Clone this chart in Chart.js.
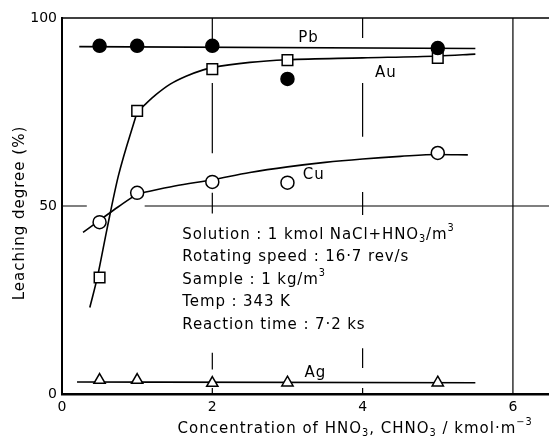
<!DOCTYPE html>
<html>
<head>
<meta charset="utf-8">
<script src="https://cdn.jsdelivr.net/npm/chart.js@4.4.0/dist/chart.umd.min.js"></script>
<style>
body { margin:0; background:#fff; }
canvas { display:block; }
</style>
</head>
<body>
<canvas id="chart" width="549" height="445"></canvas>
<script>
// measured points, x = HNO3 concentration (kmol/m3), y = leaching degree (%)
var concX = [0.5, 1, 2, 3, 5];
var pbVals = [92.6, 92.6, 92.6, 83.8, 92.0];
var auVals = [31.0, 75.3, 86.4, 88.8, 89.4];
var cuVals = [45.7, 53.5, 56.4, 56.2, 64.1];
var agVals = [3.7, 3.7, 2.9, 3.0, 3.0];

// hand drawn curves (Au and Cu bend sharply under the x=1 marker)
var pbCurveX = [0.23, 5.5];
var pbCurveY = [92.4, 91.9];
var auLowX = [0.37, 0.47, 0.6, 0.75, 1.0];
var auLowY = [23, 31, 44, 58, 75];
var auHighX = [1.0, 1.1, 1.25, 1.44, 1.65, 1.88, 2.0, 2.5, 3.0, 4.0, 5.0, 5.5];
var auHighY = [75, 76.9, 79.6, 82.4, 84.5, 86.2, 86.8, 88.2, 88.9, 89.4, 89.9, 90.4];
var cuLowX = [0.28, 0.5, 0.75, 1.0];
var cuLowY = [43, 46.2, 49.8, 53.2];
var cuHighX = [1.0, 1.5, 2.0, 2.5, 3.0, 3.5, 4.0, 4.5, 5.0, 5.4];
var cuHighY = [53.2, 55.3, 57, 58.9, 60.4, 61.6, 62.5, 63.2, 63.7, 63.6];
var agCurveX = [0.2, 5.5];
var agCurveY = [3.2, 3.0];

var xTicks = [0, 2, 4, 6];
var yTicks = [0, 50, 100];

var FONT = '"DejaVu Sans"';

function pts(xs, ys) {
	return xs.map(function(x, i) { return {x: x, y: ys[i]}; });
}

function marks(ys, style, r, fill) {
	return {
		data: pts(concX, ys), showLine: false,
		pointStyle: style, pointRadius: r,
		pointBackgroundColor: fill, pointBorderColor: '#000', pointBorderWidth: 1.5
	};
}

function curve(xs, ys) {
	return {
		data: pts(xs, ys), showLine: true, pointRadius: 0,
		borderColor: '#000', borderWidth: 1.6,
		cubicInterpolationMode: 'monotone'
	};
}

// text with sub/superscripts, parts = [[text, ''|'sub'|'sup'], ...]
function drawRich(ctx, parts, x, y, size, align, spacing) {
	ctx.letterSpacing = (spacing || 0) + 'px';
	var w = 0;
	parts.forEach(function(p) {
		ctx.font = (p[1] ? size * 0.65 : size) + 'px ' + FONT;
		w += ctx.measureText(p[0]).width;
	});
	var cx = align === 'center' ? x - w / 2 : x;
	parts.forEach(function(p) {
		var s = p[1] ? size * 0.65 : size;
		ctx.font = s + 'px ' + FONT;
		var dy = p[1] === 'sub' ? size * 0.3 : (p[1] === 'sup' ? -size * 0.42 : 0);
		ctx.fillText(p[0], cx, y + dy);
		cx += ctx.measureText(p[0]).width;
	});
	ctx.letterSpacing = '0px';
}

var decor = {
	id: 'decor',
	beforeDatasetsDraw: function(chart) {
		var ctx = chart.ctx, xs = chart.scales.x, ys = chart.scales.y, a = chart.chartArea;
		ctx.save();
		ctx.strokeStyle = '#000';
		ctx.lineWidth = 1.5;
		ctx.beginPath();
		ctx.moveTo(a.left, a.top);
		ctx.lineTo(a.right, a.top);
		ctx.stroke();
		ctx.lineWidth = 1.2;
		// broken guide lines of the original figure
		var vert = [
			{at: 2, spans: [[100, 92.6], [82.7, 64], [53.5, 48], [11, 6.5], [1.6, 0]]},
			{at: 4, spans: [[100, 94.7], [82.7, 68.4], [53.7, 47.6], [12.2, 6.9], [1.6, 0]]},
			{at: 6, spans: [[100, 0]]}
		];
		var horiz = [{at: 50, spans: [[0, 0.33], [1.1, 6.5]]}];
		ctx.beginPath();
		vert.forEach(function(g) {
			var px = xs.getPixelForValue(g.at);
			g.spans.forEach(function(s) {
				ctx.moveTo(px, ys.getPixelForValue(s[0]));
				ctx.lineTo(px, ys.getPixelForValue(s[1]));
			});
		});
		horiz.forEach(function(g) {
			var py = ys.getPixelForValue(g.at);
			g.spans.forEach(function(s) {
				ctx.moveTo(xs.getPixelForValue(s[0]), py);
				ctx.lineTo(xs.getPixelForValue(s[1]), py);
			});
		});
		ctx.stroke();
		ctx.restore();
	},
	afterDraw: function(chart) {
		var ctx = chart.ctx, xs = chart.scales.x, ys = chart.scales.y;
		ctx.save();
		ctx.fillStyle = '#000';
		ctx.textBaseline = 'middle';
		ctx.textAlign = 'left';

		var names = [['Pb', 3.28, 94.6], ['Au', 4.31, 85.4], ['Cu', 3.35, 58.2], ['Ag', 3.37, 5.6]];
		names.forEach(function(n) {
			drawRich(ctx, [[n[0], '']], xs.getPixelForValue(n[1]), ys.getPixelForValue(n[2]), 15, 'center', 1);
		});

		var info = [
			[['Solution : 1 kmol NaCl+HNO', ''], ['3', 'sub'], ['/m', ''], ['3', 'sup']],
			[['Rotating speed : 16\u00b77 rev/s', '']],
			[['Sample : 1 kg/m', ''], ['3', 'sup']],
			[['Temp : 343 K', '']],
			[['Reaction time : 7\u00b72 ks', '']]
		];
		var bx = xs.getPixelForValue(1.6), by = ys.getPixelForValue(42.3);
		info.forEach(function(line, i) {
			drawRich(ctx, line, bx, by + i * 22.5, 15, 'left', 0.9);
		});

		// axis titles
		drawRich(ctx, [['Concentration of HNO', ''], ['3', 'sub'], [', CHNO', ''], ['3', 'sub'],
			[' / kmol\u00b7m', ''], ['\u22123', 'sup']], xs.getPixelForValue(3.9), 429, 15, 'center', 1);
		ctx.translate(20, 213);
		ctx.rotate(-Math.PI / 2);
		drawRich(ctx, [['Leaching degree (%)', '']], 0, 0, 15, 'center', 1);
		ctx.restore();
	}
};

new Chart(document.getElementById('chart'), {
	type: 'scatter',
	data: {
		datasets: [
			marks(pbVals, 'circle', 6.5, '#000'),
			marks(auVals, 'rect', 7.5, '#fff'),
			marks(cuVals, 'circle', 6.5, '#fff'),
			marks(agVals, 'triangle', 6.5, '#fff'),
			curve(pbCurveX, pbCurveY),
			curve(auLowX, auLowY),
			curve(auHighX, auHighY),
			curve(cuLowX, cuLowY),
			curve(cuHighX, cuHighY),
			curve(agCurveX, agCurveY)
		]
	},
	options: {
		responsive: false,
		animation: false,
		events: [],
		layout: {autoPadding: false, padding: {top: 18, left: 0, right: 0, bottom: 0}},
		plugins: {legend: {display: false}, tooltip: {enabled: false}},
		scales: {
			x: {
				min: 0, max: 6.48,
				afterBuildTicks: function(s) { s.ticks = xTicks.map(function(v) { return {value: v}; }); },
				afterFit: function(s) { s.height = 51; },
				grid: {display: false, drawTicks: false},
				border: {display: true, color: '#000', width: 2.5},
				ticks: {color: '#000', padding: 5, font: {family: FONT, size: 14}}
			},
			y: {
				min: 0, max: 100,
				afterBuildTicks: function(s) { s.ticks = yTicks.map(function(v) { return {value: v}; }); },
				afterFit: function(s) { s.width = 62; },
				grid: {display: false, drawTicks: false},
				border: {display: true, color: '#000', width: 2},
				ticks: {color: '#000', padding: 5, font: {family: FONT, size: 14}}
			}
		}
	},
	plugins: [decor]
});
</script>
</body>
</html>
